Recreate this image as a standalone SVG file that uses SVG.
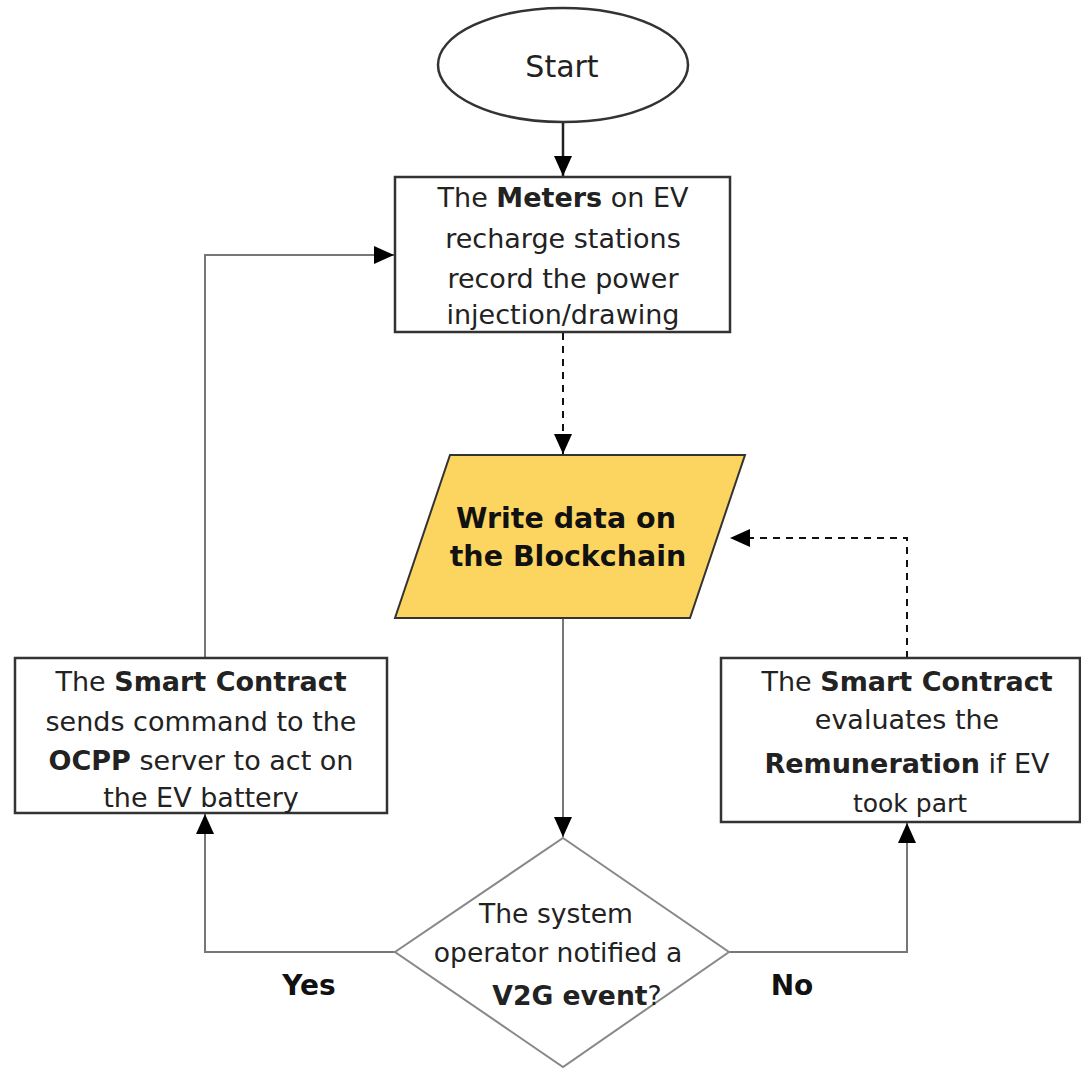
<svg xmlns="http://www.w3.org/2000/svg" width="1081" height="1069" viewBox="0 0 1081 1069">
  <style>
    .t { font-family: "DejaVu Sans", Verdana, sans-serif; font-size: 27px; fill: #222; text-anchor: middle; }
    .b { font-weight: bold; }
    .box { fill: #fff; stroke: #333; stroke-width: 2.5; }
    .solid { fill: none; stroke: #777; stroke-width: 2; }
    .dash { fill: none; stroke: #111; stroke-width: 2; stroke-dasharray: 7 6; }
    .lbl { font-size: 28px; fill: #111; }
    .big { font-size: 30px; }
    .hl { font-size: 28.5px; fill: #111; }
    .q { font-size: 26.6px; }
    .sm { font-size: 25px; }
  </style>
  <defs>
    <marker id="arrL" viewBox="0 0 20 18" refX="20" refY="9" markerWidth="20" markerHeight="18" markerUnits="userSpaceOnUse" orient="auto">
      <path d="M0,0 L20,9 L0,18 z" fill="#000"/>
    </marker>
  </defs>

  <g id="connectors">
    <line x1="563" y1="122" x2="563" y2="176" stroke="#222" stroke-width="2.5" marker-end="url(#arrL)"/>
    <line class="dash" x1="563" y1="333" x2="563" y2="454" marker-end="url(#arrL)"/>
    <line class="solid" x1="563" y1="619" x2="563" y2="837" marker-end="url(#arrL)"/>
    <polyline class="solid" points="395,952 205,952 205,814" marker-end="url(#arrL)"/>
    <polyline class="solid" points="205,658 205,255 394,255" marker-end="url(#arrL)"/>
    <polyline class="solid" points="729,952 907,952 907,823" marker-end="url(#arrL)"/>
    <polyline class="dash" points="907,658 907,538 730,538" marker-end="url(#arrL)"/>
    <text class="t b lbl" x="309" y="995">Yes</text>
    <text class="t b lbl" x="792" y="995">No</text>
  </g>

  <g id="start">
    <ellipse cx="563" cy="65" rx="125" ry="57" fill="#fff" stroke="#333" stroke-width="2.5"/>
    <text class="t big" x="562" y="77">Start</text>
  </g>

  <g id="meters">
    <rect class="box" x="395" y="177" width="335" height="155"/>
    <text class="t" x="563" y="207">The <tspan class="b">Meters</tspan> on EV</text>
    <text class="t" x="563" y="248">recharge stations</text>
    <text class="t" x="563" y="288">record the power</text>
    <text class="t" x="563" y="324">injection/drawing</text>
  </g>

  <g id="write-data">
    <polygon points="450,455 745,455 690,618 395,618" fill="#fcd561" stroke="#333" stroke-width="2"/>
    <text class="t b hl" x="566" y="528">Write data on</text>
    <text class="t b hl" x="568" y="566">the Blockchain</text>
  </g>

  <g id="command">
    <rect class="box" x="15" y="658" width="372" height="155"/>
    <text class="t" x="201" y="691">The <tspan class="b">Smart Contract</tspan></text>
    <text class="t" x="201" y="731">sends command to the</text>
    <text class="t" x="201" y="770"><tspan class="b">OCPP</tspan> server to act on</text>
    <text class="t" x="201" y="807">the EV battery</text>
  </g>

  <g id="remuneration">
    <rect class="box" x="721" y="658" width="359" height="164"/>
    <text class="t" x="907" y="691">The <tspan class="b">Smart Contract</tspan></text>
    <text class="t" x="907" y="729">evaluates the</text>
    <text class="t" x="907" y="773"><tspan class="b">Remuneration</tspan> if EV</text>
    <text class="t sm" x="910" y="812">took part</text>
  </g>

  <g id="decision">
    <polygon points="563,838 729,952 563,1067 395,952" fill="#fff" stroke="#888" stroke-width="2"/>
    <text class="t q" x="556" y="923">The system</text>
    <text class="t q" x="558" y="962">operator notified a</text>
    <text class="t q" x="577" y="1005"><tspan class="b">V2G event</tspan>?</text>
  </g>
</svg>
